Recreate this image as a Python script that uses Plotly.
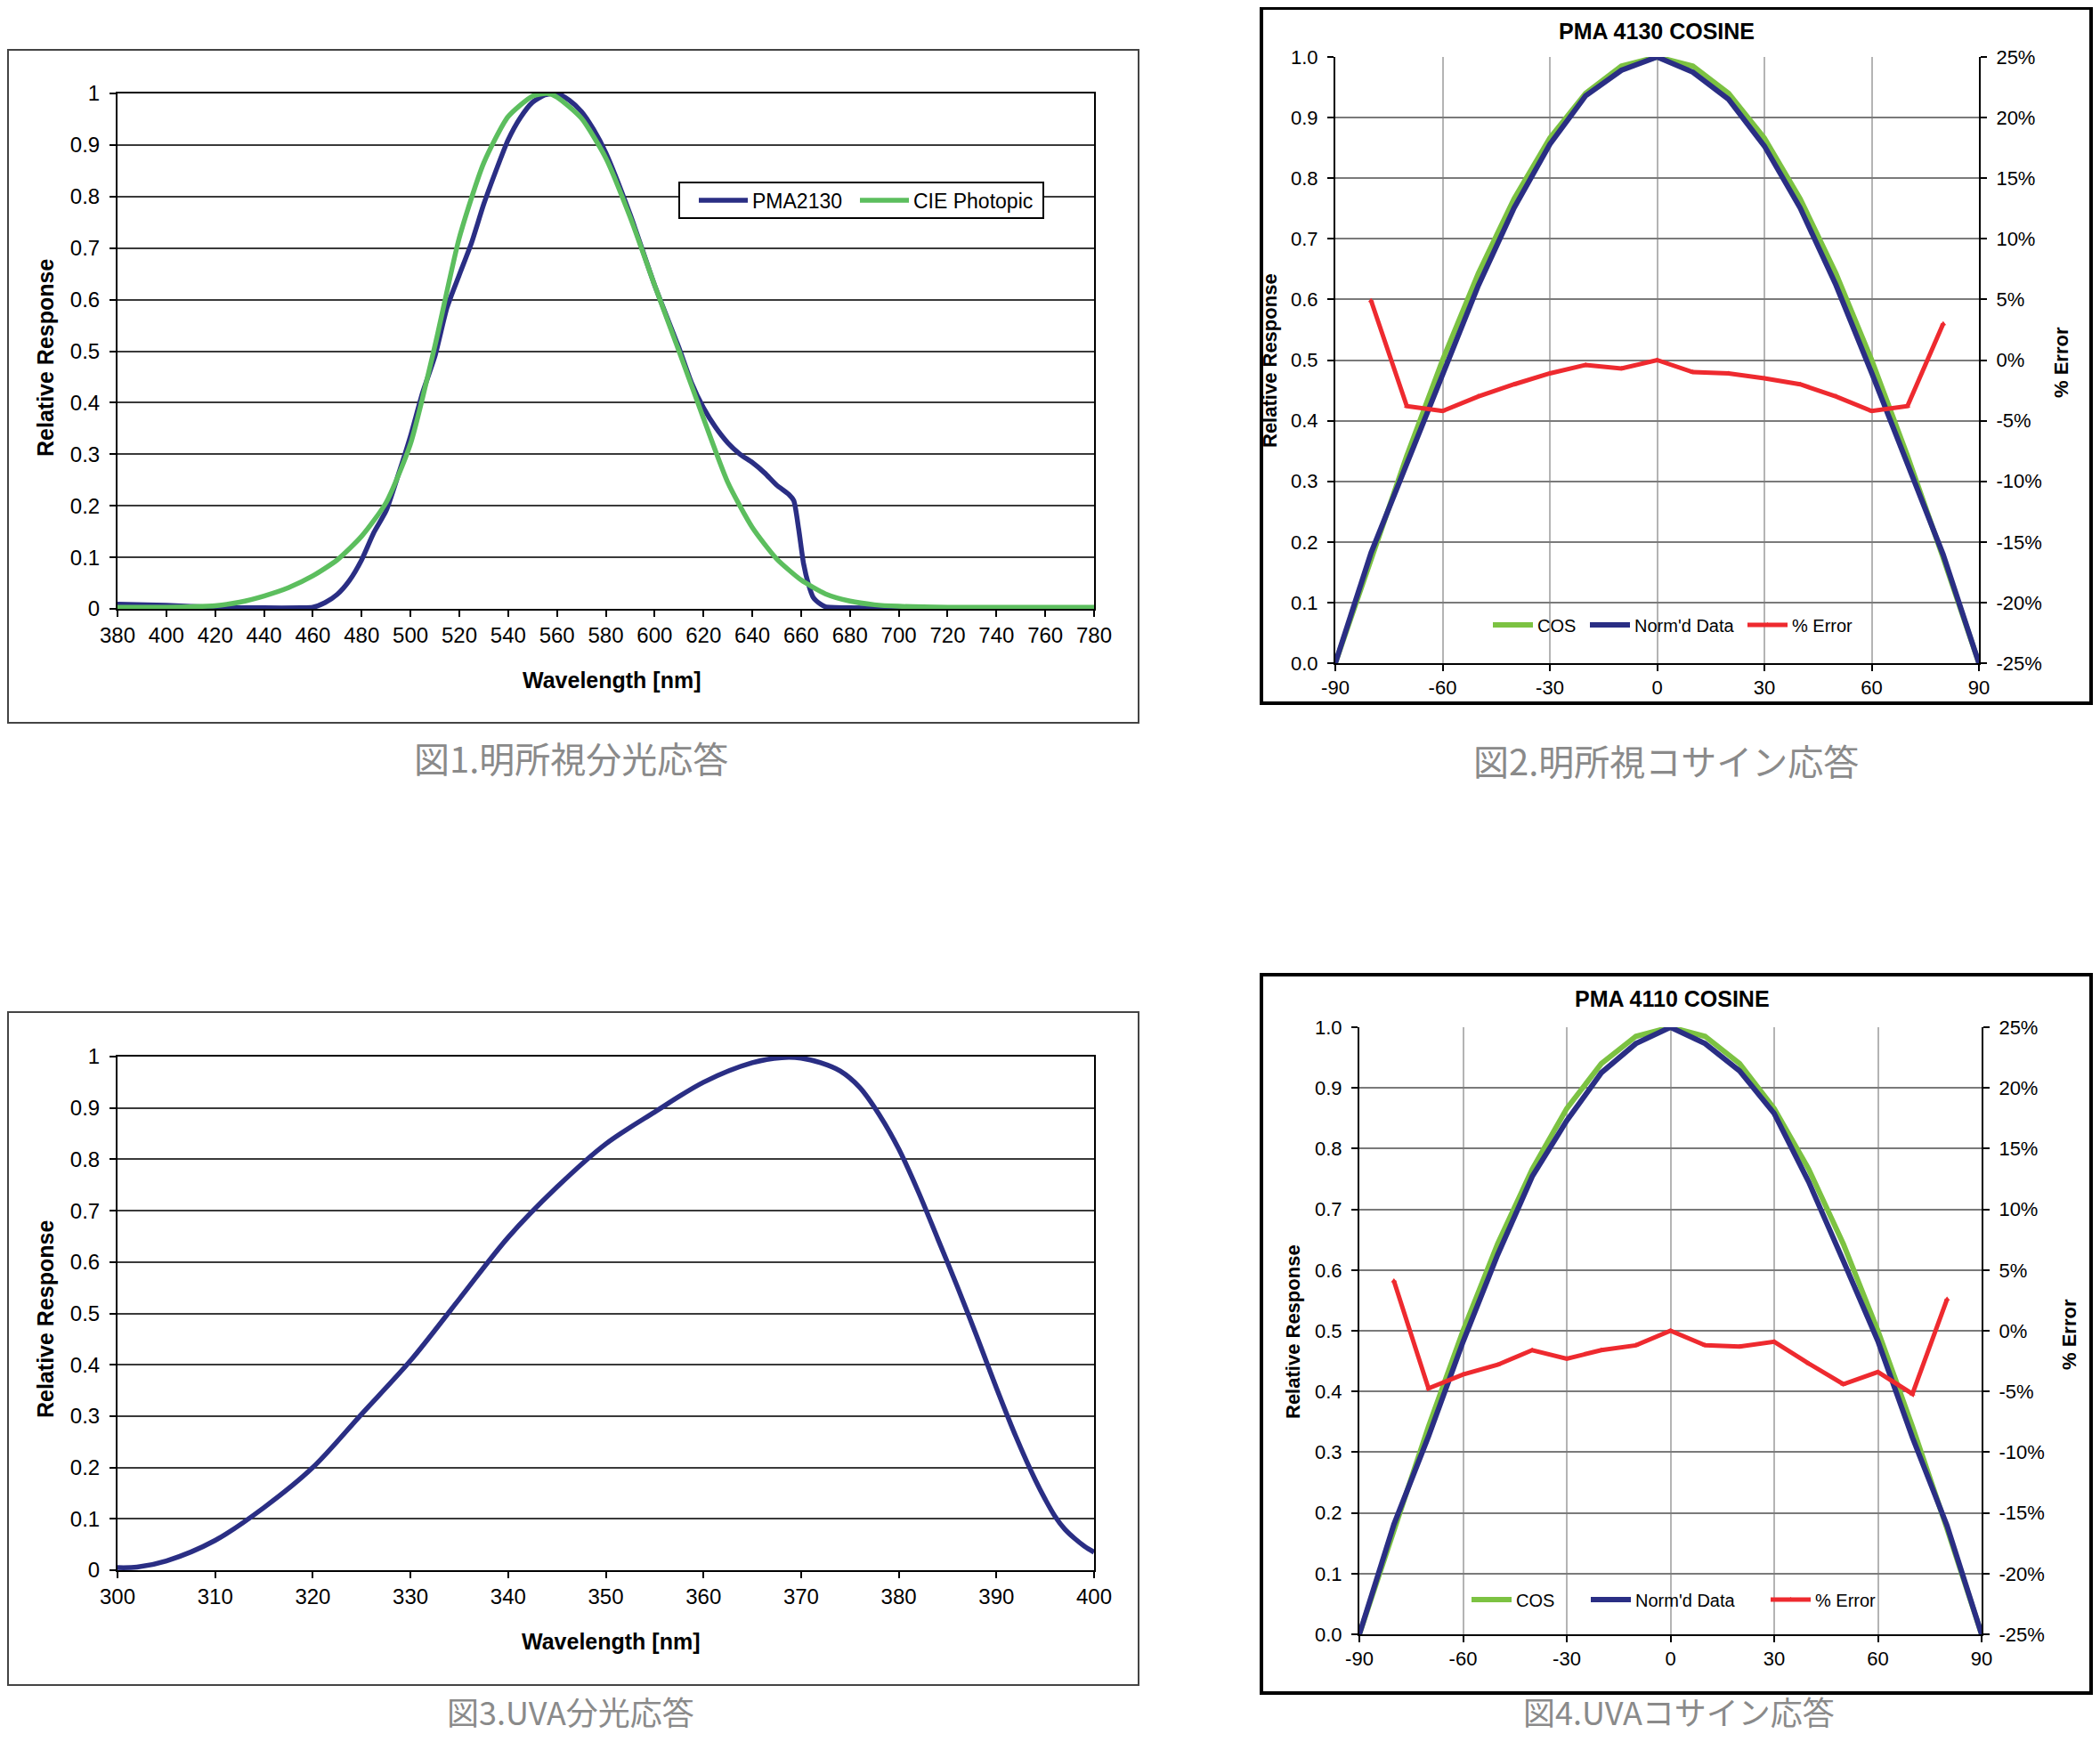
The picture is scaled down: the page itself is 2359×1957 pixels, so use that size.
import plotly.graph_objects as go

W, H = 2359, 1957
OFF = 8                      # page body margin of the browser
FW, FH = W - 2 * OFF, H - 2 * OFF

# ---------------- data ----------------
# Fig.1 photopic spectral response
wl_pma2130 = [380, 400, 420, 440, 455, 460, 465, 470, 475, 480, 485, 490, 495, 500, 505,
              510, 515, 520, 525, 530, 535, 540, 545, 550, 555, 560, 565, 570, 575, 580,
              590, 600, 610, 615, 620, 625, 630, 635, 640, 645, 650, 655, 657, 659, 661,
              663, 665, 668, 670, 680, 700, 720, 740, 760, 780]
pma2130 = [0.009, 0.007, 0.003, 0.002, 0.002, 0.003, 0.012, 0.028, 0.055, 0.095, 0.148, 0.19, 0.26, 0.335, 0.42,
           0.49, 0.585, 0.648, 0.71, 0.785, 0.85, 0.91, 0.953, 0.983, 0.997, 1.0, 0.987, 0.965, 0.93, 0.885,
           0.765, 0.628, 0.506, 0.44, 0.39, 0.352, 0.322, 0.30, 0.284, 0.264, 0.24, 0.222, 0.21, 0.155, 0.088,
           0.048, 0.022, 0.009, 0.004, 0.002, 0.002, 0.002, 0.002, 0.002, 0.002]
wl_cie = [380, 400, 410, 420, 430, 440, 450, 460, 470, 480, 490, 500, 510, 520, 530, 540, 550, 556,
          560, 570, 580, 590, 600, 610, 620, 630, 640, 650, 660, 670, 680, 690, 700, 720, 740, 780]
cie_photopic = [0.003, 0.003, 0.004, 0.006, 0.013, 0.025, 0.041, 0.064, 0.095, 0.141, 0.206, 0.32, 0.51, 0.72,
                0.865, 0.955, 0.995, 1.0, 0.993, 0.952, 0.875, 0.76, 0.628, 0.5, 0.37, 0.245, 0.158, 0.097,
                0.056, 0.029, 0.015, 0.008, 0.005, 0.003, 0.003, 0.003]

# Fig.3 UVA spectral response
wl_uva = [300, 302, 305, 310, 315, 320, 325, 330, 335, 340, 345, 350, 355, 360, 365, 368, 370, 372,
          374, 376, 378, 380, 382, 384, 386, 388, 390, 392, 394, 395, 396, 397, 398, 399, 400]
uva = [0.005, 0.006, 0.018, 0.058, 0.122, 0.2, 0.304, 0.408, 0.528, 0.648, 0.746, 0.83, 0.892, 0.95,
       0.988, 0.998, 0.997, 0.988, 0.972, 0.94, 0.887, 0.82, 0.737, 0.645, 0.552, 0.455, 0.355, 0.26,
       0.175, 0.138, 0.105, 0.08, 0.062, 0.047, 0.035]

# Fig.2 / Fig.4 cosine response
angles = [-90, -80, -70, -60, -50, -40, -30, -20, -10, 0, 10, 20, 30, 40, 50, 60, 70, 80, 90]
cos_ref = [0.0, 0.174, 0.342, 0.5, 0.643, 0.766, 0.866, 0.94, 0.985, 1.0,
           0.985, 0.94, 0.866, 0.766, 0.643, 0.5, 0.342, 0.174, 0.0]
norm_4130 = [0.0, 0.182, 0.329, 0.479, 0.623, 0.751, 0.856, 0.936, 0.978, 1.0,
             0.975, 0.930, 0.853, 0.751, 0.624, 0.479, 0.329, 0.179, 0.0]
norm_4110 = [0.0, 0.181, 0.326, 0.482, 0.625, 0.754, 0.846, 0.925, 0.973, 1.0,
             0.973, 0.928, 0.858, 0.745, 0.615, 0.483, 0.324, 0.179, 0.0]
err_angles = [-80, -70, -60, -50, -40, -30, -20, -10, 0, 10, 20, 30, 40, 50, 60, 70, 80]
err_4130 = [4.9, -3.8, -4.2, -3.0, -2.0, -1.1, -0.4, -0.7, 0.0, -1.0, -1.1, -1.5, -2.0, -3.0, -4.2, -3.8, 3.0]
err_4110 = [4.1, -4.75, -3.6, -2.8, -1.6, -2.3, -1.6, -1.2, 0.0, -1.2, -1.3, -0.9, -2.7, -4.4, -3.4, -5.2, 2.6]

angle_ticks = [-90, -60, -30, 0, 30, 60, 90]
angle_labels = ["-90", "-60", "-30", "0", "30", "60", "90"]
err_ticks = [-25, -20, -15, -10, -5, 0, 5, 10, 15, 20, 25]
err_labels = ["-25%", "-20%", "-15%", "-10%", "-5%", "0%", "5%", "10%", "15%", "20%", "25%"]

captions = ["図1.明所視分光応答", "図2.明所視コサイン応答", "図3.UVA分光応答", "図4.UVAコサイン応答"]

# ---------------- style ----------------
FONT = "Liberation Sans, Arial, sans-serif"
CJK = "Noto Sans CJK JP, sans-serif"
NAVY = "#2a2e84"
GREEN1 = "#5cbe5e"
GREEN2 = "#7cc242"
RED = "#ee2a2f"


def px(v):
    return (v - OFF) / FW


def py(v):
    return 1 - (v - OFF) / FH


fig = go.Figure()

# Fig.1
fig.add_trace(go.Scatter(x=wl_pma2130, y=pma2130, mode="lines", name="PMA2130",
                         line=dict(color=NAVY, width=5.5, shape="spline", smoothing=0.6),
                         xaxis="x", yaxis="y", legend="legend"))
fig.add_trace(go.Scatter(x=wl_cie, y=cie_photopic, mode="lines", name="CIE Photopic",
                         line=dict(color=GREEN1, width=5.5, shape="spline", smoothing=0.6),
                         xaxis="x", yaxis="y", legend="legend2"))

# Fig.2
fig.add_trace(go.Scatter(x=angles, y=cos_ref, mode="lines", name="COS",
                         line=dict(color=GREEN2, width=6), xaxis="x2", yaxis="y2", legend="legend3"))
fig.add_trace(go.Scatter(x=angles, y=norm_4130, mode="lines", name="Norm'd Data",
                         line=dict(color=NAVY, width=6), xaxis="x2", yaxis="y2", legend="legend4"))
fig.add_trace(go.Scatter(x=err_angles, y=err_4130, mode="lines+markers", name="% Error",
                         line=dict(color=RED, width=5),
                         marker=dict(symbol="triangle-up", size=6, color=RED),
                         xaxis="x2", yaxis="y3", legend="legend5"))

# Fig.3
fig.add_trace(go.Scatter(x=wl_uva, y=uva, mode="lines", name="UVA", showlegend=False,
                         line=dict(color=NAVY, width=5.5, shape="spline", smoothing=0.9),
                         xaxis="x3", yaxis="y4"))

# Fig.4
fig.add_trace(go.Scatter(x=angles, y=cos_ref, mode="lines", name="COS",
                         line=dict(color=GREEN2, width=6), xaxis="x4", yaxis="y5", legend="legend6"))
fig.add_trace(go.Scatter(x=angles, y=norm_4110, mode="lines", name="Norm'd Data",
                         line=dict(color=NAVY, width=6), xaxis="x4", yaxis="y5", legend="legend7"))
fig.add_trace(go.Scatter(x=err_angles, y=err_4110, mode="lines+markers", name="% Error",
                         line=dict(color=RED, width=5),
                         marker=dict(symbol="triangle-up", size=6, color=RED),
                         xaxis="x4", yaxis="y6", legend="legend8"))

spec_tick = dict(family=FONT, size=24, color="black")
cos_tick = dict(family=FONT, size=22, color="black")

common = dict(showline=True, linecolor="black", linewidth=2, ticks="outside", ticklen=7,
              tickcolor="black", tickwidth=1.5, zeroline=False)


def leg(x, y, size, iw):
    return dict(x=px(x), y=py(y), xanchor="left", yanchor="middle", orientation="h",
                bgcolor="rgba(0,0,0,0)", borderwidth=0, itemwidth=iw,
                font=dict(family=FONT, size=size, color="black"))


layout = dict(
    width=FW, height=FH, margin=dict(l=0, r=0, t=0, b=0, pad=0, autoexpand=False),
    paper_bgcolor="white", plot_bgcolor="white",
    font=dict(family=FONT, color="black"),
    # Fig.1 axes
    xaxis=dict(domain=[px(132), px(1229)], range=[380, 780], tick0=380, dtick=20, mirror=True,
               showgrid=False, anchor="y", tickfont=spec_tick, **common),
    yaxis=dict(domain=[py(684), py(105)], range=[0, 1], dtick=0.1, mirror=True,
               showgrid=True, gridcolor="#3a3a3a", gridwidth=1.5, anchor="x", tickfont=spec_tick,
               ticklabelstandoff=6, **common),
    # Fig.2 axes
    xaxis2=dict(domain=[px(1500), px(2223)], range=[-90, 90], tickvals=angle_ticks, ticktext=angle_labels,
                showgrid=True, gridcolor="#b4b4b4", gridwidth=1.5, anchor="y2", tickfont=cos_tick, **common),
    yaxis2=dict(domain=[py(745), py(64)], range=[0, 1], dtick=0.1, tickformat=".1f",
                showgrid=True, gridcolor="#7a7a7a", gridwidth=1.8, anchor="x2", tickfont=cos_tick,
                ticklabelstandoff=6, **common),
    yaxis3=dict(range=[-25, 25], tickvals=err_ticks, ticktext=err_labels, overlaying="y2", side="right",
                showgrid=False, anchor="x2", tickfont=cos_tick, ticklabelstandoff=6, **common),
    # Fig.3 axes
    xaxis3=dict(domain=[px(132), px(1229)], range=[300, 400], tick0=300, dtick=10, mirror=True,
                showgrid=False, anchor="y4", tickfont=spec_tick, **common),
    yaxis4=dict(domain=[py(1764), py(1187)], range=[0, 1], dtick=0.1, mirror=True,
                showgrid=True, gridcolor="#3a3a3a", gridwidth=1.5, anchor="x3", tickfont=spec_tick,
                ticklabelstandoff=6, **common),
    # Fig.4 axes
    xaxis4=dict(domain=[px(1527), px(2226)], range=[-90, 90], tickvals=angle_ticks, ticktext=angle_labels,
                showgrid=True, gridcolor="#b4b4b4", gridwidth=1.5, anchor="y5", tickfont=cos_tick, **common),
    yaxis5=dict(domain=[py(1836), py(1154)], range=[0, 1], dtick=0.1, tickformat=".1f",
                showgrid=True, gridcolor="#7a7a7a", gridwidth=1.8, anchor="x4", tickfont=cos_tick,
                ticklabelstandoff=6, **common),
    yaxis6=dict(range=[-25, 25], tickvals=err_ticks, ticktext=err_labels, overlaying="y5", side="right",
                showgrid=False, anchor="x4", tickfont=cos_tick, ticklabelstandoff=6, **common),
    # legends (one entry each, placed where the reference shows them)
    legend=leg(780, 225, 23, 55),
    legend2=leg(961, 225, 23, 55),
    legend3=leg(1672, 702, 20, 45),
    legend4=leg(1781, 702, 20, 45),
    legend5=leg(1958, 702, 20, 45),
    legend6=leg(1648, 1797, 20, 45),
    legend7=leg(1782, 1797, 20, 45),
    legend8=leg(1984, 1797, 20, 45),
)
fig.update_layout(**layout)

# legend box of Fig.1 (covers the gridline behind it)
fig.add_shape(type="rect", xref="paper", yref="paper", x0=px(763), x1=px(1172), y0=py(205), y1=py(245),
              line=dict(color="black", width=2), fillcolor="white", layer="above")

# panel frames
frames = [
    (9, 56, 1279, 812, "#444444", 2),
    (1417, 9, 2349, 790, "black", 4),
    (9, 1137, 1279, 1893, "#444444", 2),
    (1417, 1095, 2349, 1902, "black", 4),
]
for x0, y0, x1, y1, c, w in frames:
    fig.add_shape(type="rect", xref="paper", yref="paper", x0=px(x0), x1=px(x1), y0=py(y0), y1=py(y1),
                  line=dict(color=c, width=w), fillcolor="rgba(0,0,0,0)", layer="above")


def note(text, x, y, size, angle=0, bold=True, color="black", family=FONT):
    fig.add_annotation(text=f"<b>{text}</b>" if bold else text, x=px(x), y=py(y), xref="paper", yref="paper",
                       xanchor="center", yanchor="middle", showarrow=False, textangle=angle,
                       font=dict(family=family, size=size, color=color))


# axis titles and chart titles
note("Relative Response", 51, 402, 25, -90)
note("Wavelength [nm]", 687, 764, 25)
note("Relative Response", 51, 1482, 25, -90)
note("Wavelength [nm]", 686, 1844, 25)
note("PMA 4130 COSINE", 1861, 35, 25)
note("Relative Response", 1426, 405, 22, -90)
note("% Error", 2316, 407, 22, -90)
note("PMA 4110 COSINE", 1878, 1122, 25)
note("Relative Response", 1452, 1496, 22, -90)
note("% Error", 2324, 1499, 22, -90)

# captions
cap_pos = [(641, 851), (1871, 854), (641, 1922), (1886, 1922)]
cap_size = [40, 40, 36, 36]
for t, (x, y), s in zip(captions, cap_pos, cap_size):
    note(t, x, y, s, bold=False, color="#8a8a8a", family=CJK)

fig.write_html("out.html")
